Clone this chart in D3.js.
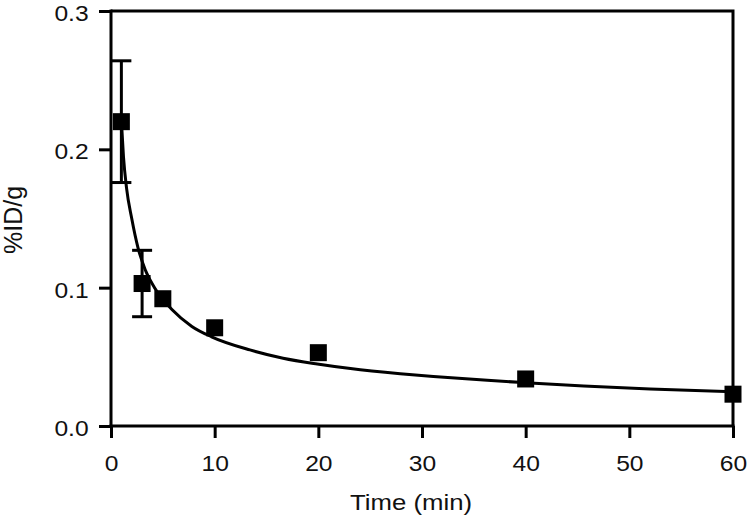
<!DOCTYPE html>
<html>
<head>
<meta charset="utf-8">
<script src="https://cdn.jsdelivr.net/npm/d3@7/dist/d3.min.js"></script>
<style>
  html, body { margin: 0; padding: 0; background: #fff; }
  svg { display: block; }
  text { font-family: "Liberation Sans", Arial, Helvetica, sans-serif; fill: #111; }
</style>
</head>
<body>
<svg id="chart" width="750" height="521"></svg>
<script>
// Measured data points (Time in min, %ID/g)
const times = [1, 3, 5, 10, 20, 40, 60];
const means = [0.220, 0.103, 0.092, 0.071, 0.053, 0.034, 0.023];
const errors = [0.044, 0.024, 0, 0, 0, 0, 0];

// Fitted curve
const fitTimes = [1, 1.2, 1.5, 2, 2.6, 3.3, 4.2, 5.9, 7.8, 9.7, 13.4, 16.6, 19.9, 23.1, 27.9, 31.1, 36.3, 40, 45.6, 52, 60];
const fitValues = [0.221, 0.195, 0.172, 0.150, 0.129, 0.113, 0.100, 0.084, 0.072, 0.0645, 0.055, 0.049, 0.0448, 0.0415, 0.0378, 0.0358, 0.0330, 0.0313, 0.0290, 0.0268, 0.0247];

// Tick labels
const xTicks = [0, 10, 20, 30, 40, 50, 60];
const yTicks = [0.0, 0.1, 0.2, 0.3];
const xTitle = "Time (min)";
const yTitle = "%ID/g";

const svg = d3.select("#chart");
const W = 750, H = 521;
const margin = { top: 11, right: 17, bottom: 95, left: 111 };
const iw = W - margin.left - margin.right;
const ih = H - margin.top - margin.bottom;

const x = d3.scaleLinear().domain([0, 60]).range([margin.left, margin.left + iw]);
const y = d3.scaleLinear().domain([0, 0.3]).range([margin.top + ih, margin.top]);

const stroke = 3;
const stretch = 1.12;

// Frame (top and right borders)
svg.append("path")
  .attr("d", `M${x(0)},${y(0.3)} H${x(60)} V${y(0)}`)
  .attr("fill", "none").attr("stroke", "#000").attr("stroke-width", stroke)
  .attr("stroke-linejoin", "miter");

// X axis
const gx = svg.append("g")
  .attr("transform", `translate(0,${y(0)})`)
  .call(d3.axisBottom(x).tickValues(xTicks).tickFormat(d3.format("d")).tickSize(12).tickSizeOuter(0).tickPadding(17));
// Y axis
const gy = svg.append("g")
  .attr("transform", `translate(${x(0)},0)`)
  .call(d3.axisLeft(y).tickValues(yTicks).tickFormat(d3.format(".1f")).tickSize(12).tickSizeOuter(0).tickPadding(8));

[gx, gy].forEach(g => {
  g.select(".domain").attr("stroke", "#000").attr("stroke-width", stroke);
  g.selectAll(".tick line").attr("stroke", "#000").attr("stroke-width", stroke);
  g.selectAll(".tick text").attr("font-size", 22).attr("fill", "#111")
    .attr("transform", `scale(${stretch},1)`)
    .style("font-family", '"Liberation Sans", Arial, Helvetica, sans-serif');
});
gy.selectAll(".tick text").attr("dy", "0.43em");
// extend the domain lines so they meet the outer ticks cleanly
gx.select(".domain").attr("d", `M${x(0) - stroke/2},0H${x(60) + stroke/2}`);
gy.select(".domain").attr("d", `M0,${y(0) + stroke/2}V${y(0.3) - stroke/2}`);

// Fitted curve
const line = d3.line().x((d, i) => x(fitTimes[i])).y(d => y(d)).curve(d3.curveMonotoneX);
svg.append("path")
  .datum(fitValues)
  .attr("d", line)
  .attr("fill", "none").attr("stroke", "#000").attr("stroke-width", 3);

// Error bars
const capW = 20;
const eb = svg.append("g");
times.forEach((t, i) => {
  if (errors[i] <= 0) return;
  const cx = x(t);
  const top = y(means[i] + errors[i]);
  const bot = y(means[i] - errors[i]);
  eb.append("line").attr("x1", cx).attr("x2", cx).attr("y1", top).attr("y2", bot)
    .attr("stroke", "#000").attr("stroke-width", 3);
  [top, bot].forEach(yy => {
    eb.append("line").attr("x1", cx - capW/2).attr("x2", cx + capW/2).attr("y1", yy).attr("y2", yy)
      .attr("stroke", "#000").attr("stroke-width", 3);
  });
});

// Square markers
const s = 17;
svg.append("g").selectAll("rect")
  .data(times)
  .join("rect")
  .attr("x", d => x(d) - s/2)
  .attr("y", (d, i) => y(means[i]) - s/2)
  .attr("width", s).attr("height", s)
  .attr("fill", "#000");

// Axis titles
svg.append("text")
  .attr("transform", `translate(411,510) scale(${stretch},1)`)
  .attr("text-anchor", "middle").attr("font-size", 23)
  .text(xTitle);

svg.append("text")
  .attr("transform", `translate(22,220) rotate(-90)`)
  .attr("text-anchor", "middle").attr("font-size", 25)
  .text(yTitle);
</script>
</body>
</html>
